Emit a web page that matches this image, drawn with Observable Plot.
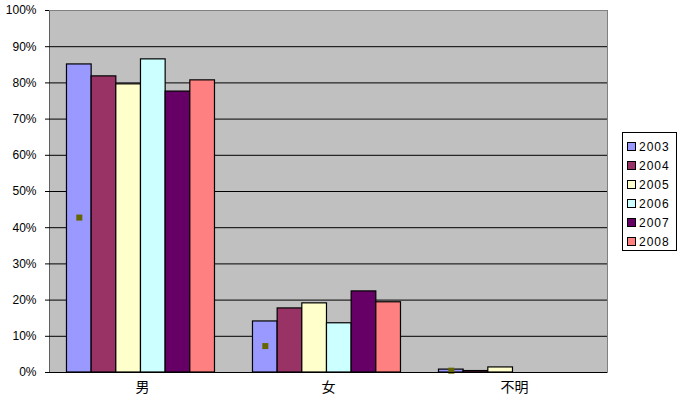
<!DOCTYPE html>
<html>
<head>
<meta charset="utf-8">
<script src="https://cdn.jsdelivr.net/npm/d3@7"></script>
<script src="https://cdn.jsdelivr.net/npm/@observablehq/plot@0.6"></script>
<style>
  html, body { margin: 0; padding: 0; background: #ffffff; }
  #wrap { position: relative; width: 683px; height: 406px; }
  #legend {
    position: absolute; left: 622px; top: 132px; width: 55px; height: 119px;
    border: 1px solid #000; background: #fff; box-sizing: border-box;
    padding-top: 4px;
    font-family: "Liberation Sans", Arial, sans-serif; font-size: 12px; letter-spacing: 1px;
  }
  .item { display: flex; align-items: center; height: 19px; padding-left: 4px; }
  .sw { width: 7px; height: 7px; border: 1px solid #000; margin-right: 3px; flex: none; }
</style>
</head>
<body>
<div id="wrap"><div id="legend"></div></div>
<script>
const categories = ["男", "女", "不明"];
const years = ["2003", "2004", "2005", "2006", "2007", "2008"];
const s2003 = [85.1, 14.1, 0.8];
const s2004 = [81.8, 17.7, 0.4];
const s2005 = [79.6, 19.1, 1.4];
const s2006 = [86.5, 13.6, 0];
const s2007 = [77.6, 22.4, 0];
const s2008 = [80.7, 19.4, 0];
const markerValues = [42.8, 7.3, 0.5]; // small olive markers on the 2003 bars
const colors = ["#9999FF", "#993366", "#FFFFCC", "#CCFFFF", "#660066", "#FF8080"];
const yTicks = [0, 10, 20, 30, 40, 50, 60, 70, 80, 90, 100];
const gridTicks = [10, 20, 30, 40, 50, 60, 70, 80, 90];

const series = [s2003, s2004, s2005, s2006, s2007, s2008];
const rows = [];
categories.forEach((cat, ci) => {
  years.forEach((year, yi) => {
    rows.push({cat, year, value: series[yi][ci], mark: yi === 0 ? markerValues[ci] : null});
  });
});

const chart = Plot.plot({
  width: 683,
  height: 406,
  marginLeft: 48,
  marginRight: 76,
  marginTop: 10,
  marginBottom: 34,
  style: {background: "transparent", fontFamily: "'Liberation Sans', Arial, sans-serif", fontSize: "12px", color: "#000"},
  facet: {data: rows, x: "cat"},
  fx: {domain: categories, padding: 0, axis: "bottom", label: null, tickSize: 0, tickPadding: 10},
  x: {domain: years, paddingInner: 0, paddingOuter: 0.77, align: 0.46, round: false, axis: null},
  y: {domain: [0, 100], ticks: yTicks, tickFormat: d => d + "%", tickSize: 4, tickPadding: 9, line: true, label: null},
  color: {domain: years, range: colors},
  marks: [
    Plot.frame({fill: "#C0C0C0", stroke: "none", facet: "super"}),
    Plot.ruleY(gridTicks, {stroke: "#000", strokeWidth: 1}),
    Plot.ruleY([100], {stroke: "#808080"}),
    Plot.frame({anchor: "right", facet: "super", stroke: "#808080"}),
    Plot.barY(rows, {x: "year", y: "value", fill: "year", stroke: "#000", strokeWidth: 1.2}),
    Plot.dot(rows, {filter: d => d.mark != null, x: "year", y: "mark", symbol: "square", r: 3.4, fill: "#666600", stroke: "none"}),
    Plot.ruleY([0], {stroke: "#000", strokeWidth: 1.2})
  ]
});
d3.select(chart).selectAll("text")
  .filter(function() { return categories.includes(this.textContent.trim()); })
  .attr("font-size", 14)
  .style("font-size", "14px")
  .style("font-family", "'Noto Sans CJK JP', sans-serif");
document.getElementById("wrap").prepend(chart);

const legend = document.getElementById("legend");
years.forEach((y, i) => {
  const it = document.createElement("div");
  it.className = "item";
  const sw = document.createElement("div");
  sw.className = "sw";
  sw.style.background = colors[i];
  const tx = document.createElement("span");
  tx.textContent = y;
  it.appendChild(sw);
  it.appendChild(tx);
  legend.appendChild(it);
});
</script>
</body>
</html>
